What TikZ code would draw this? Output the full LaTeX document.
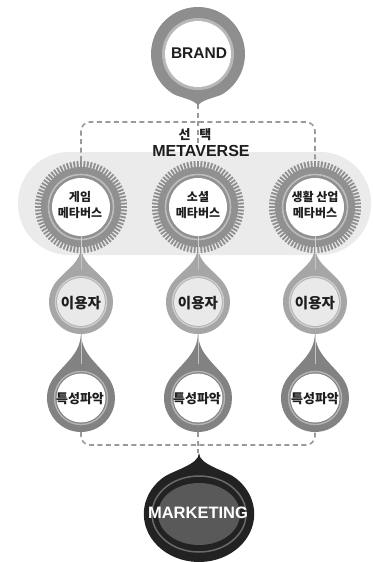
\documentclass[tikz,border=0pt]{standalone}
\usepackage{fontspec}
\setmainfont{Liberation Sans}
\newfontfamily\kr{Noto Sans CJK KR}
\usetikzlibrary{calc}

\definecolor{bandgray}{HTML}{EBEBEB}
\definecolor{dashgray}{HTML}{9A9A9A}
\definecolor{brandgray}{HTML}{8E8E8E}
\definecolor{brandring}{HTML}{B8B8B8}
\definecolor{gearfill}{HTML}{909090}
\definecolor{gearring}{HTML}{BDBDBD}
\definecolor{gearline}{HTML}{CFCFCF}
\definecolor{usergray}{HTML}{A6A6A6}
\definecolor{userring}{HTML}{CECECE}
\definecolor{userin}{HTML}{E9E9E9}
\definecolor{featgray}{HTML}{828282}
\definecolor{featring}{HTML}{B4B4B4}
\definecolor{mkblack}{HTML}{222222}
\definecolor{mkring}{HTML}{6A6A6A}
\definecolor{mkin}{HTML}{595959}
\definecolor{txt}{HTML}{1E1E1E}
\definecolor{stemline}{HTML}{C4C4C4}

\tikzset{
  pics/drop/.style args={#1/#2/#3/#4/#5}{code={
    \fill[#5] (0,#2) .. controls +(-90:#4) and +(#3:#4) .. (90+#3:#1)
      arc[start angle=90+#3, end angle=450-#3, radius=#1]
      .. controls +(180-#3:#4) and +(-90:#4) .. (0,#2) -- cycle;
  }}
}

\newcommand\drawgear[2]{%
  \fill[gearfill] (#1,#2) circle (40);
  \foreach \a in {0,4.5,...,355.5}
    \draw[gearfill, line width=1.9pt] ($(#1,#2)+(\a:37)$) -- ($(#1,#2)+(\a:46)$);
  \draw[gearring, line width=1.6pt] (#1,#2) circle (32.5);
  \fill[white] (#1,#2) circle (29);
  \draw[gearline, line width=0.8pt] (#1,#2-29) -- (#1,#2-46);
}

\begin{document}
\begin{tikzpicture}[x=1pt,y=1pt,
  dashline/.style={draw=dashgray, line width=1.6pt, dash pattern=on 5pt off 3.5pt},
  brandtext/.style={font=\bfseries\fontsize{15.5}{17}\selectfont, text=txt, inner sep=0pt},
  metatext/.style={font=\bfseries\fontsize{16}{18}\selectfont, text=txt, inner sep=0pt},
  mktext/.style={font=\bfseries\fontsize{16.5}{18}\selectfont, text=white, inner sep=0pt},
  seltext/.style={font=\kr\bfseries\fontsize{13}{15}\selectfont, text=txt, inner sep=0pt},
  geartext/.style={font=\kr\bfseries\fontsize{12}{16.5}\selectfont, text=txt, align=center, inner sep=0pt},
  usertext/.style={font=\kr\bfseries\fontsize{14.5}{16}\selectfont, text=txt, inner sep=0pt},
  feattext/.style={font=\kr\bfseries\fontsize{13}{15}\selectfont, text=txt, inner sep=0pt}]
\useasboundingbox (0,0) rectangle (372,-562);
\fill[white] (0,0) rectangle (372,-562);

% band
\fill[bandgray, rounded corners=51pt] (18,-152) rectangle (371,-255);

% connector coordinates
\coordinate (brandtip) at (198,-104);
\coordinate (selgap) at (198,-147);
\coordinate (hl) at (198,-122);
\coordinate (g1top) at (81,-161);
\coordinate (g3top) at (315,-161);
\coordinate (f1bot) at (81,-432);
\coordinate (f2bot) at (198,-432);
\coordinate (f3bot) at (315,-432);
\coordinate (bl) at (198,-445);
\coordinate (mktip) at (198,-453);

% top dashed connectors
\draw[dashline, rounded corners=9pt] (g1top) |- (hl) -| (g3top);
\draw[dashline] (brandtip) -- (selgap);

% feature drops
\foreach \x in {81,198,315}{
  \pic at (\x,-398) {drop=34/66/50/20/featgray};
  \draw[featring, line width=1.4pt] (\x,-398) circle (26.5);
  \fill[white] (\x,-398) circle (24.5);
  \draw[stemline, line width=0.7pt] (\x,-334) -- (\x,-364);
}
% user drops
\foreach \x in {81,198,315}{
  \pic at (\x,-302) {drop=32/57/50/18/usergray};
  \draw[userring, line width=1.4pt] (\x,-302) circle (25.5);
  \fill[userin] (\x,-302) circle (24);
  \draw[stemline, line width=0.7pt] (\x,-250) -- (\x,-270);
}
% gears
\drawgear{81}{-207}
\drawgear{198}{-207}
\drawgear{315}{-207}

% brand
\pic[rotate=180] at (198,-54) {drop=47/53/32/7/brandgray};
\draw[brandring, line width=3pt] (198,-54) circle (34.5);
\fill[white] (198,-54) circle (33);

% marketing
\pic[xscale=1.15] at (199,-514) {drop=48/61/42/12/mkblack};
\draw[mkring, line width=1.5pt] (199,-514) ellipse (47 and 38);
\fill[mkin] (199,-514) ellipse (41 and 31);

% bottom dashed connectors
\draw[dashline, rounded corners=9pt] (f1bot) |- (bl) -| (f3bot);
\draw[dashline] (f2bot) -- (mktip);

% texts
\node[brandtext] (brand) at (199,-53) {BRAND};
\node[seltext] (sel) at (195,-135) {선\hspace{9pt}택};
\node[metatext] (meta) at (201,-151) {METAVERSE};
\node[geartext] (g1) at (80,-205) {게임\\메타버스};
\node[geartext] (g2) at (198,-205) {소셜\\메타버스};
\node[geartext] (g3) at (315,-205) {생활 산업\\메타버스};
\node[usertext] (u1) at (81,-303) {이용자};
\node[usertext] (u2) at (198,-303) {이용자};
\node[usertext] (u3) at (315,-303) {이용자};
\node[feattext] (f1) at (80,-399) {특성파악};
\node[feattext] (f2) at (197,-399) {특성파악};
\node[feattext] (f3) at (315,-399) {특성파악};
\node[mktext] (mk) at (198,-513) {MARKETING};
\end{tikzpicture}
\end{document}
